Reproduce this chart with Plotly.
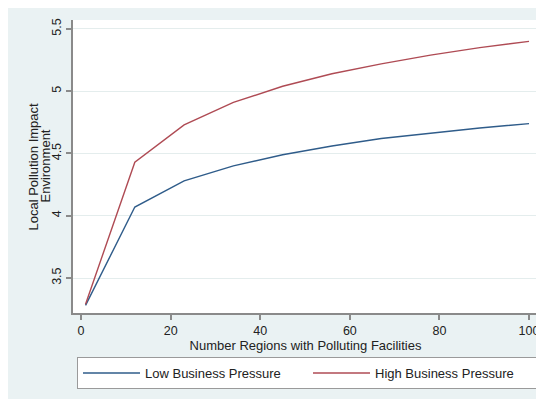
import plotly.graph_objects as go

regions = [1, 12, 23, 34, 45, 56, 67, 78, 89, 100]
low_pressure = [3.28, 4.07, 4.28, 4.40, 4.49, 4.56, 4.62, 4.665, 4.705, 4.74]
high_pressure = [3.29, 4.43, 4.73, 4.91, 5.04, 5.14, 5.22, 5.29, 5.35, 5.40]
x_ticks = [0, 20, 40, 60, 80, 100]
y_ticks = [3.5, 4, 4.5, 5, 5.5]
y_ticklabels = ["3.5", "4", "4.5", "5", "5.5"]
y_title_lines = ["Local Pollution Impact", "Environment"]
x_title = "Number Regions with Polluting Facilities"

# page has an 8px body margin; figure origin sits at (8, 8)
OFF = 8
W, H = 544 - OFF, 399 - OFF
L, R, T, B = 73 - OFF, 6, 20 - OFF, 399 - 313
pw, ph = W - L - R, H - T - B

BG = "#eaf2f3"
FONT = "Liberation Sans, Arial, sans-serif"
TXT = "#222222"

fig = go.Figure()
fig.add_trace(go.Scatter(x=regions, y=low_pressure, mode="lines",
                         name="Low Business Pressure",
                         line=dict(color="#2f5c8a", width=1.4)))
fig.add_trace(go.Scatter(x=regions, y=high_pressure, mode="lines",
                         name="High Business Pressure",
                         line=dict(color="#af4b54", width=1.4)))

def px_x(p):
    return (p - OFF - L) / pw

def px_y(p):
    return 1 - (p - OFF - T) / ph

annotations = [
    dict(text=y_title_lines[0], xref="paper", yref="paper", x=px_x(33), y=0.5,
         xanchor="center", yanchor="middle", textangle=-90, showarrow=False,
         font=dict(size=13, color=TXT)),
    dict(text=y_title_lines[1], xref="paper", yref="paper", x=px_x(45), y=0.5,
         xanchor="center", yanchor="middle", textangle=-90, showarrow=False,
         font=dict(size=13, color=TXT)),
]

fig.update_layout(
    width=W, height=H,
    margin=dict(l=L, r=R, t=T, b=B, autoexpand=False),
    paper_bgcolor=BG, plot_bgcolor="white",
    font=dict(family=FONT, size=13, color=TXT),
    annotations=annotations,
    showlegend=True,
    legend=dict(orientation="h", x=px_x(77), xanchor="left",
                y=px_y(357), yanchor="top",
                bgcolor="white", bordercolor="#9a9a9a", borderwidth=1,
                itemwidth=57, entrywidth=158, entrywidthmode="pixels",
                font=dict(size=13, color=TXT)),
    xaxis=dict(range=[-1.8, 102], tickvals=x_ticks, showgrid=False,
               zeroline=False, showline=True, linecolor="#8a8a8a", linewidth=1.5,
               ticks="outside", ticklen=5, tickcolor="#8a8a8a", tickwidth=1.5,
               title=dict(text=x_title, standoff=0, font=dict(size=13, color=TXT)),
               tickfont=dict(size=12.5)),
    yaxis=dict(range=[3.219, 5.572], tickvals=y_ticks, ticktext=y_ticklabels,
               showgrid=True, gridcolor="#e4eded", gridwidth=1,
               zeroline=False, showline=True, linecolor="#8a8a8a", linewidth=1.5,
               ticks="outside", ticklen=5, tickcolor="#8a8a8a", tickwidth=1.5,
               tickangle=-90, ticklabelstandoff=0,
               tickfont=dict(size=12.5)),
)

fig.write_html("out.html")
